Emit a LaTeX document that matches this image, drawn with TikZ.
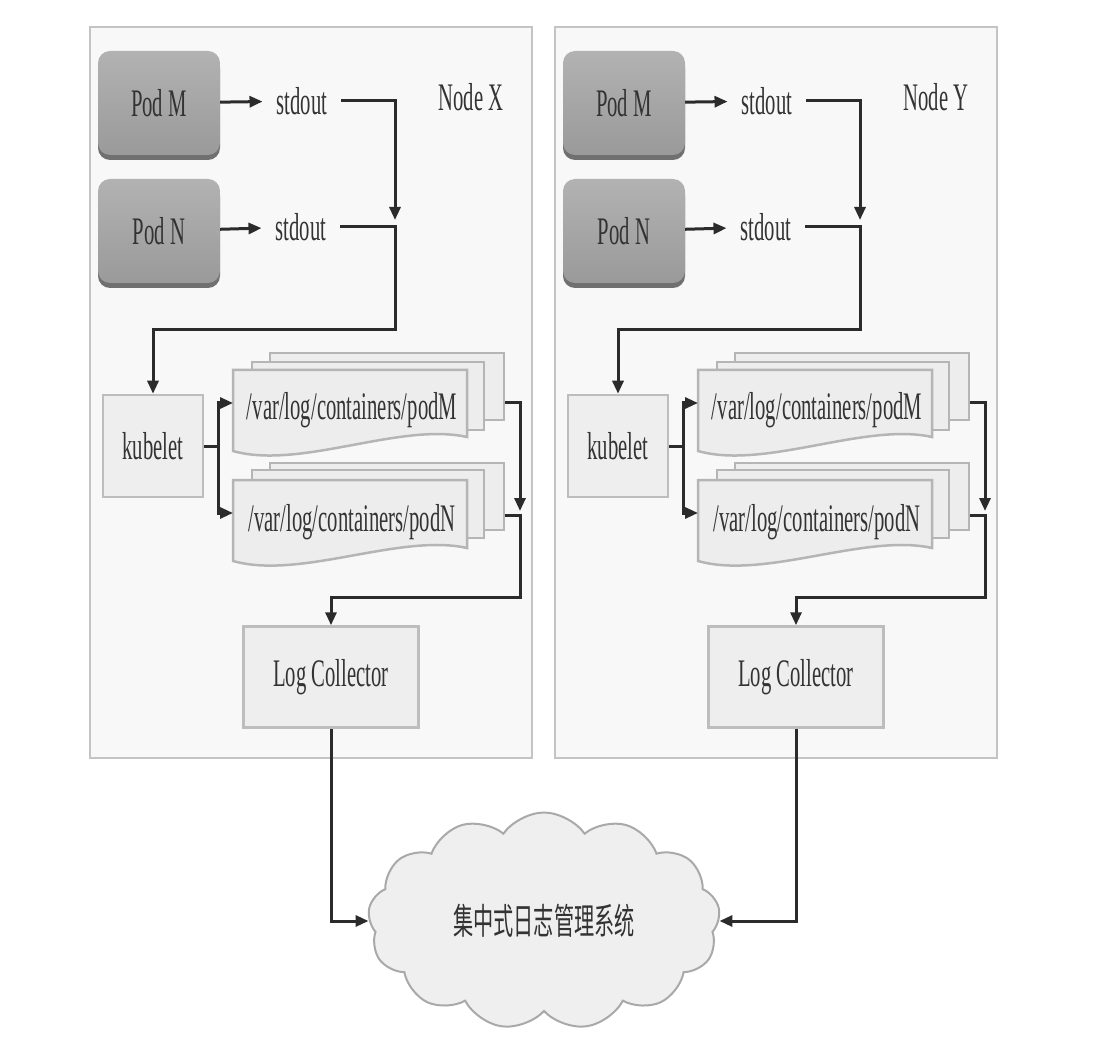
\documentclass[tikz,border=0pt]{standalone}
\usepackage{fontspec}
\newfontfamily\condserif[FakeStretch=0.53]{Liberation Serif}
\newfontfamily\cjkcond[FakeStretch=0.56]{Noto Sans CJK SC}
\usetikzlibrary{shapes.symbols,shadows,arrows.meta}
\definecolor{boxbg}{HTML}{F8F8F8}
\definecolor{boxline}{HTML}{C4C4C4}
\definecolor{podtop}{HTML}{B2B2B2}
\definecolor{podbot}{HTML}{9A9A9A}
\definecolor{poddark}{HTML}{707070}
\definecolor{rectfill}{HTML}{EEEEEE}
\definecolor{rectline}{HTML}{BDBDBD}
\definecolor{pagefill}{HTML}{EDEDED}
\definecolor{pageline}{HTML}{B5B5B5}
\definecolor{cloudfill}{HTML}{EFEFEF}
\definecolor{cloudline}{HTML}{A9A9A9}
\definecolor{linec}{HTML}{2B2B2B}
\definecolor{txtc}{HTML}{333333}
\newcommand\lbl{\condserif\fontsize{39}{41}\selectfont}
\newcommand\cjklbl{\cjkcond\fontsize{36}{38}\selectfont}
\newcommand\kubenode[3]{%
\begin{scope}[xshift=#2]
\node[nodebox] (box#1) at (311,392.5) {};
\node[txt] (lab#1) at (471,97) {#3};
\node[podbox] (pm#1) at (159,103) {Pod M};
\node[podbox] (pn#1) at (159,231) {Pod N};
\node[txt] (sm#1) at (302,101) {stdout};
\node[txt] (sn#1) at (301,227) {stdout};
\coordinate (ja#1) at (395,220);
\coordinate (j#1) at (395,227);
\coordinate (t#1) at (395,330);
\node[grayrect, minimum width=100pt, minimum height=102pt] (kub#1) at (153,446) {kubelet};
\coordinate (b#1) at (218,446);
% podM pages
\node[page, minimum width=234pt, minimum height=67pt] (mb#1) at (387,386.5) {};
\node[page, minimum width=232pt, minimum height=68pt] (mm#1) at (368,396) {};
\path[page] (233,370) -- (467,370) -- (467,437) .. controls (400,422) and (300,470) .. (233,451) -- cycle;
\node[txt, inner xsep=0pt] (dm#1) at (352,410) {/var/log/containers/podM};
% podN pages
\node[page, minimum width=234pt, minimum height=67pt] (nb#1) at (387,496.5) {};
\node[page, minimum width=232pt, minimum height=68pt] (nm#1) at (368,504) {};
\path[page] (233,480) -- (467,480) -- (467,548) .. controls (400,533) and (300,580) .. (233,561) -- cycle;
\node[txt, inner xsep=0pt] (dn#1) at (352,522) {/var/log/containers/podN};
\coordinate (fm#1) at (233,403);
\coordinate (fn#1) at (233,513);
\coordinate (ra#1) at (520,511);
\coordinate (r#1) at (520,515);
\coordinate (s#1) at (520,597);
\node[grayrect, minimum width=175pt, minimum height=101pt] (lc#1) at (331,677) {Log Collector};
% connectors
\draw[arr] (pm#1) -- (sm#1);
\draw[arr] (pn#1) -- (sn#1);
\draw[arr] (sm#1.east) -| (ja#1);
\draw[arr] (sn#1.east) -- (j#1) -- (t#1) -| (kub#1.north);
\draw[conn] (kub#1.east) -- (b#1);
\draw[arr] (b#1) |- (fm#1);
\draw[arr] (b#1) |- (fn#1);
\draw[arr] (mb#1.east |- fm#1) -| (ra#1);
\draw[arr] (nb#1.east |- r#1) -- (r#1) -- (s#1) -| (lc#1.north);
\end{scope}}
\begin{document}
\begin{tikzpicture}[x=1pt,y=-1pt,
  nodebox/.style={draw=boxline, fill=boxbg, line width=2.5pt, minimum width=442pt, minimum height=731pt, inner sep=0pt},
  txt/.style={font=\lbl, text=txtc, inner xsep=14pt, inner ysep=2pt},
  podbox/.style={rounded corners=12pt, top color=podtop, bottom color=podbot, draw=none, minimum width=122pt, minimum height=104pt, drop shadow={shadow xshift=0pt, shadow yshift=-5pt, fill=poddark, opacity=1}, font=\lbl, text=txtc},
  grayrect/.style={draw=rectline, fill=rectfill, line width=2.5pt, font=\lbl, text=txtc},
  page/.style={draw=pageline, fill=pagefill, line width=2.5pt, inner sep=0pt},
  conn/.style={draw=linec, line width=3pt},
  arr/.style={conn, -{Triangle[length=13pt,width=11pt]}}]
\useasboundingbox[fill=white] (0,0) rectangle (1103,1040);
\kubenode{X}{0pt}{Node X}
\kubenode{Y}{465pt}{Node Y}
\node[cloud, cloud puffs=13, cloud puff arc=110, aspect=1.62, draw=cloudline, fill=cloudfill, line width=2pt, minimum width=352pt, minimum height=217pt, font=\cjklbl, text=txtc, inner sep=0pt] (cloud) at (544,921) {集中式日志管理系统};
\draw[arr] (lcX.south) |- (cloud.west);
\draw[arr] (lcY.south) |- (cloud.east);
\end{tikzpicture}
\end{document}
